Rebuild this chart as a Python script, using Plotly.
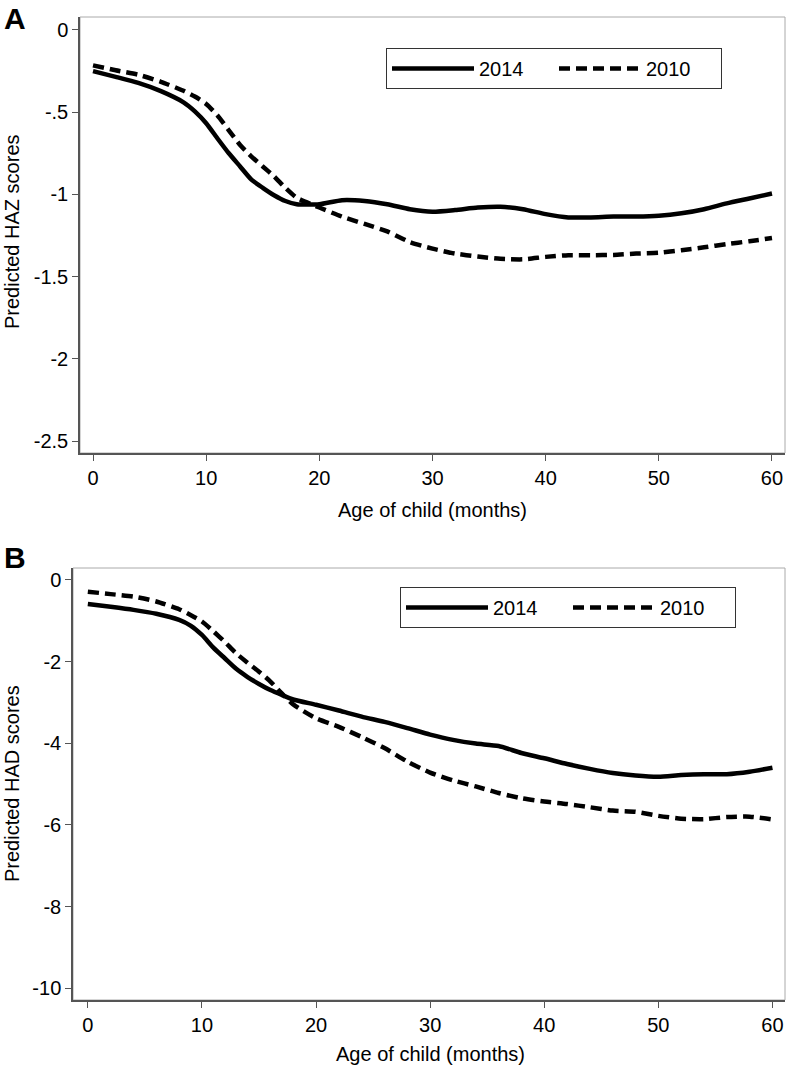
import plotly.graph_objects as go

# ---- data ----
months = [0, 2, 4, 6, 8, 9, 10, 11, 12, 13, 14, 15, 16, 17, 18, 20, 22, 24, 26, 28,
          30, 32, 34, 36, 38, 40, 42, 44, 46, 48, 50, 52, 54, 56, 58, 60]

haz_2014 = [-0.25, -0.285, -0.322, -0.372, -0.44, -0.495, -0.567, -0.66, -0.75, -0.83,
            -0.91, -0.96, -1.005, -1.04, -1.06, -1.06, -1.035, -1.04, -1.06, -1.09,
            -1.105, -1.095, -1.08, -1.075, -1.09, -1.12, -1.14, -1.14, -1.135, -1.135,
            -1.13, -1.115, -1.09, -1.055, -1.025, -0.995]
haz_2010 = [-0.215, -0.245, -0.272, -0.315, -0.37, -0.405, -0.45, -0.52, -0.61, -0.70,
            -0.77, -0.83, -0.89, -0.96, -1.02, -1.08, -1.135, -1.18, -1.225, -1.29,
            -1.33, -1.36, -1.378, -1.392, -1.395, -1.38, -1.37, -1.37, -1.368, -1.36,
            -1.355, -1.34, -1.322, -1.302, -1.285, -1.265]

had_2014 = [-0.59, -0.66, -0.735, -0.83, -0.98, -1.12, -1.35, -1.66, -1.92, -2.18,
            -2.38, -2.55, -2.70, -2.82, -2.93, -3.06, -3.2, -3.35, -3.48, -3.63,
            -3.79, -3.92, -4.01, -4.07, -4.24, -4.37, -4.51, -4.63, -4.73, -4.79,
            -4.82, -4.78, -4.76, -4.76, -4.70, -4.60]
had_2010 = [-0.29, -0.35, -0.41, -0.53, -0.72, -0.86, -1.02, -1.26, -1.52, -1.80,
            -2.03, -2.25, -2.49, -2.78, -3.05, -3.39, -3.6, -3.85, -4.12, -4.45,
            -4.72, -4.91, -5.06, -5.22, -5.35, -5.43, -5.49, -5.57, -5.65, -5.68,
            -5.78, -5.85, -5.86, -5.81, -5.80, -5.87]

x_ticks = [0, 10, 20, 30, 40, 50, 60]
haz_ticks = [0, -0.5, -1, -1.5, -2, -2.5]
haz_ticktext = ["0", "-.5", "-1", "-1.5", "-2", "-2.5"]
had_ticks = [0, -2, -4, -6, -8, -10]
had_ticktext = ["0", "-2", "-4", "-6", "-8", "-10"]

W, H = 789, 1068
FONT = "Arial, Liberation Sans, sans-serif"
AXC = "#555555"
FS = 20

fig = go.Figure()

def add_pair(y_solid, y_dash, xa, ya, leg):
    fig.add_trace(go.Scatter(x=months, y=y_solid, mode="lines", name="2014",
                             line=dict(color="black", width=4.5, shape="spline", smoothing=0.6),
                             xaxis=xa, yaxis=ya, legend=leg))
    fig.add_trace(go.Scatter(x=months, y=y_dash, mode="lines", name="2010",
                             line=dict(color="black", width=4.5, dash="11px,6px", shape="spline", smoothing=0.6),
                             xaxis=xa, yaxis=ya, legend=leg))

add_pair(haz_2014, haz_2010, "x", "y", "legend")
add_pair(had_2014, had_2010, "x2", "y2", "legend2")

axis_common = dict(showline=True, linecolor=AXC, linewidth=1.5, ticks="outside",
                   ticklen=6, tickcolor=AXC, tickwidth=1.2, showgrid=False, zeroline=False,
                   tickfont=dict(family=FONT, size=FS, color="black"))

def px_x(p):
    return p / W

def px_y(p):
    return 1 - p / H

legend_common = dict(xanchor="left", yanchor="top", orientation="h",
                     bordercolor="#333333", borderwidth=1, bgcolor="white",
                     itemwidth=82, entrywidth=70, entrywidthmode="pixels",
                     font=dict(family=FONT, size=FS, color="black"))

fig.update_layout(
    width=W, height=H,
    margin=dict(l=0, r=0, t=0, b=0),
    paper_bgcolor="white", plot_bgcolor="white",
    showlegend=True,
    xaxis=dict(domain=[px_x(80), px_x(785)], range=[-1.15, 61.15], tickvals=x_ticks,
               anchor="y", **axis_common),
    yaxis=dict(domain=[px_y(453), px_y(17)], range=[-2.573, 0.079], tickvals=haz_ticks,
               ticktext=haz_ticktext, anchor="x", **axis_common),
    xaxis2=dict(domain=[px_x(73), px_x(785)], range=[-1.3, 61.1], tickvals=x_ticks,
                anchor="y2", **axis_common),
    yaxis2=dict(domain=[px_y(1000), px_y(568)], range=[-10.29, 0.29], tickvals=had_ticks,
                ticktext=had_ticktext, anchor="x2", **axis_common),
    legend=dict(x=px_x(386), y=px_y(48), **legend_common),
    legend2=dict(x=px_x(400), y=px_y(587), **legend_common),
)

# light frame around each plot region
for xr, yr in [("x domain", "y domain"), ("x2 domain", "y2 domain")]:
    fig.add_shape(type="rect", xref=xr, yref=yr, x0=0, x1=1, y0=0, y1=1,
                  line=dict(color="#aaaaaa", width=1), layer="below")

def note(text, xp, yp, size=FS, angle=0):
    fig.add_annotation(text=text, x=px_x(xp), y=px_y(yp), xref="paper", yref="paper",
                       xanchor="center", yanchor="middle", textangle=angle, showarrow=False,
                       font=dict(family=FONT, size=size, color="black"))

# panel letters
note("<b>A</b>", 15, 19, size=30)
note("<b>B</b>", 15, 557, size=30)

# axis titles
note("Predicted HAZ scores", 12, 232, angle=-90)
note("Predicted HAD scores", 12, 784, angle=-90)
note("Age of child (months)", 433, 510)
note("Age of child (months)", 430, 1054)

# drop the default body margin so the figure sits at the page corner
fig.write_html("out.html", config={"displayModeBar": False},
               post_script="document.body.style.margin='0px';")
